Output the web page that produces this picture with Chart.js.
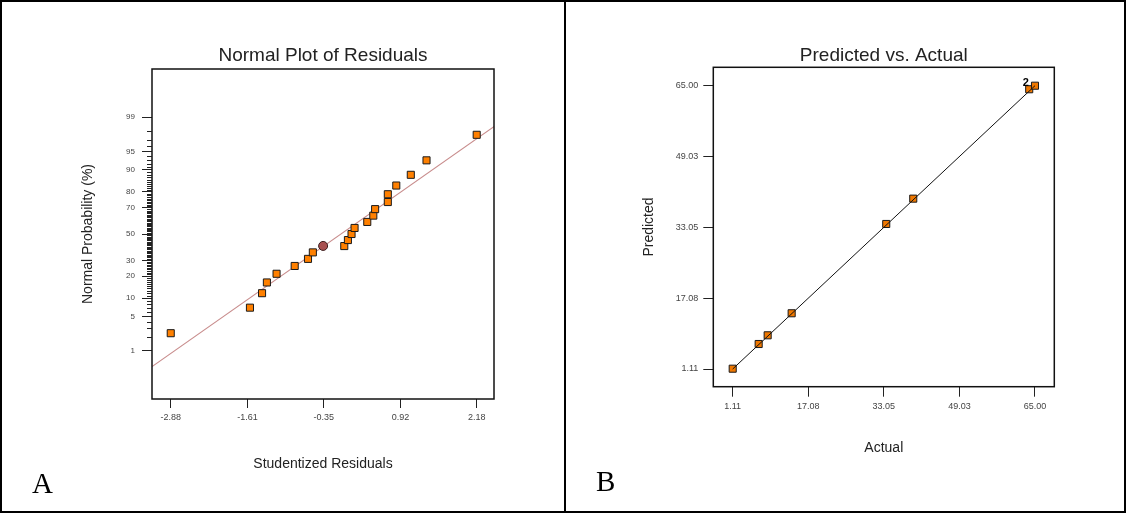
<!DOCTYPE html>
<html>
<head>
<meta charset="utf-8">
<script src="https://cdn.jsdelivr.net/npm/chart.js@4.4.0/dist/chart.umd.min.js"></script>
<style>
  html, body { margin: 0; padding: 0; background: #fff; }
  #page { position: relative; width: 1126px; height: 513px; overflow: hidden; background: #fff; }
  canvas { position: absolute; top: 0; }
  #cA { left: 0; }
  #cB { left: 566px; }
  .frame { position: absolute; border: 2px solid #000; box-sizing: border-box; }
  .tag { position: absolute; font-family: 'Liberation Serif', 'Times New Roman', serif; font-size: 29px; line-height: 1; color: #000; }
</style>
</head>
<body>
<div id="page">
  <canvas id="cA" width="566" height="513"></canvas>
  <canvas id="cB" width="560" height="513"></canvas>
  <div class="frame" style="left:0;top:0;width:1126px;height:513px"></div>
  <div class="frame" style="left:564px;top:0;width:2px;height:513px;border-width:0 0 0 2px"></div>
  <div class="tag" style="left:32px;top:469px">A</div>
  <div class="tag" style="left:596px;top:467px">B</div>
</div>
<script>
// --- panel A: normal plot of residuals ---
const residuals = [-2.88, -1.57, -1.37, -1.29, -1.13, -0.83, -0.61, -0.53, -0.01, 0.05, 0.11,
                   0.16, 0.37, 0.47, 0.50, 0.71, 0.71, 0.85, 1.09, 1.35, 2.18];
const probability = [2.4, 7.1, 11.9, 16.7, 21.4, 26.2, 31.0, 35.7, 40.5, 45.2, 50.0,
                     54.8, 59.5, 64.3, 69.0, 73.8, 78.6, 83.3, 88.1, 92.9, 97.6];
const selResidual = [-0.36];
const selProbability = [40.6];
const fitLineX = [-3.19, 2.47];
const fitLineProb = [0.41, 98.4];
const xTicksA = [-2.88, -1.61, -0.35, 0.92, 2.18];
const xLabelsA = ['-2.88', '-1.61', '-0.35', '0.92', '2.18'];
const probTicks = [1, 5, 10, 20, 30, 50, 70, 80, 90, 95, 99];

// --- panel B: predicted vs actual ---
const actual = [1.11, 6.60, 8.50, 13.57, 33.56, 39.27, 63.78, 65.00];
const predicted = [1.18, 6.75, 8.71, 13.68, 33.82, 39.53, 64.20, 65.00];
const refLine = [1.11, 65.00];
const ticksB = [1.11, 17.08, 33.05, 49.03, 65.00];
const labelsB = ['1.11', '17.08', '33.05', '49.03', '65.00'];
const repeatIndex = [6];
const repeatText = ['2'];

const FONT = "'Liberation Sans', Arial, sans-serif";

// inverse normal cdf (Acklam), used to put percentages on a probability axis
function probit(p) {
  const a = [-3.969683028665376e+01, 2.209460984245205e+02, -2.759285104469687e+02, 1.383577518672690e+02, -3.066479806614716e+01, 2.506628277459239e+00];
  const b = [-5.447609879822406e+01, 1.615858368580409e+02, -1.556989798598866e+02, 6.680131188771972e+01, -1.328068155288572e+01];
  const c = [-7.784894002430293e-03, -3.223964580411365e-01, -2.400758277161838e+00, -2.549732539343734e+00, 4.374664141464968e+00, 2.938163982698783e+00];
  const d = [7.784695709041462e-03, 3.224671290700398e-01, 2.445134137142996e+00, 3.754408661907416e+00];
  const pl = 0.02425;
  let q, r;
  if (p < pl) {
    q = Math.sqrt(-2 * Math.log(p));
    return (((((c[0]*q+c[1])*q+c[2])*q+c[3])*q+c[4])*q+c[5]) / ((((d[0]*q+d[1])*q+d[2])*q+d[3])*q+1);
  }
  if (p > 1 - pl) {
    q = Math.sqrt(-2 * Math.log(1 - p));
    return -(((((c[0]*q+c[1])*q+c[2])*q+c[3])*q+c[4])*q+c[5]) / ((((d[0]*q+d[1])*q+d[2])*q+d[3])*q+1);
  }
  q = p - 0.5; r = q * q;
  return (((((a[0]*r+a[1])*r+a[2])*r+a[3])*r+a[4])*r+a[5])*q / (((((b[0]*r+b[1])*r+b[2])*r+b[3])*r+b[4])*r+1);
}

// box round the plot area
const frame = {
  id: 'frame',
  afterDraw(chart) {
    const a = chart.chartArea, ctx = chart.ctx;
    ctx.save();
    ctx.strokeStyle = '#111';
    ctx.lineWidth = 1.5;
    ctx.strokeRect(a.left, a.top, a.right - a.left, a.bottom - a.top);
    ctx.restore();
  }
};

// short marks for every whole percent on the probability axis
const minorTicks = {
  id: 'minorTicks',
  afterDraw(chart) {
    const ys = chart.scales.y, ctx = chart.ctx;
    ctx.save();
    ctx.strokeStyle = '#222';
    ctx.lineWidth = 1;
    ctx.beginPath();
    for (let p = 1; p <= 99; p++) {
      if (probTicks.includes(p)) continue;
      const py = Math.round(ys.getPixelForValue(probit(p / 100))) + 0.5;
      ctx.moveTo(ys.right - 5, py);
      ctx.lineTo(ys.right, py);
    }
    ctx.stroke();
    ctx.restore();
  }
};

const countLabels = {
  id: 'countLabels',
  afterDatasetsDraw(chart) {
    const ctx = chart.ctx, xs = chart.scales.x, ys = chart.scales.y;
    ctx.save();
    ctx.font = 'bold 11px ' + FONT;
    ctx.fillStyle = '#000';
    ctx.textAlign = 'center';
    ctx.textBaseline = 'middle';
    repeatIndex.forEach(function (idx, k) {
      ctx.fillText(repeatText[k], xs.getPixelForValue(actual[idx]) - 3.5, ys.getPixelForValue(predicted[idx]) - 6);
    });
    ctx.restore();
  }
};

function axisBase(tickLen) {
  return {
    type: 'linear',
    grid: { drawOnChartArea: false, drawTicks: true, tickLength: tickLen, color: '#222', tickWidth: 1 },
    border: { display: false },
  };
}

new Chart(document.getElementById('cA'), {
  type: 'scatter',
  data: {
    datasets: [
      {
        data: residuals.map(function (r, i) { return { x: r, y: probit(probability[i] / 100) }; }),
        pointStyle: 'rect', pointRadius: 5, backgroundColor: '#ff8000', borderColor: '#1a1a1a', borderWidth: 1,
        order: 1,
      },
      {
        data: selResidual.map(function (r, i) { return { x: r, y: probit(selProbability[i] / 100) }; }),
        pointStyle: 'circle', pointRadius: 4.5, backgroundColor: '#a85050', borderColor: '#3a1a1a', borderWidth: 1,
        order: 0,
      },
      {
        type: 'line',
        data: fitLineX.map(function (x, i) { return { x: x, y: probit(fitLineProb[i] / 100) }; }),
        borderColor: '#c88c8c', borderWidth: 1.2, pointRadius: 0, fill: false,
        order: 2,
      },
    ],
  },
  options: {
    responsive: false,
    animation: false,
    layout: { padding: { left: 0, right: 72, top: 0, bottom: 0 } },
    plugins: {
      legend: { display: false },
      tooltip: { enabled: false },
      title: {
        display: true, text: 'Normal Plot of Residuals', fullSize: false, color: '#222',
        font: { family: FONT, size: 19, weight: 'normal' },
        padding: { top: 44.6, bottom: 1.6 },
      },
    },
    scales: {
      x: Object.assign(axisBase(9), {
        min: -3.19, max: 2.466,
        afterBuildTicks: function (s) { s.ticks = xTicksA.map(function (v) { return { value: v }; }); },
        afterFit: function (s) { s.height = 114; },
        ticks: {
          autoSkip: false, maxRotation: 0, padding: 4, color: '#444',
          font: { family: FONT, size: 9 },
          callback: function (v, i) { return xLabelsA[i]; },
        },
        title: {
          display: true, text: 'Studentized Residuals', color: '#222',
          font: { family: FONT, size: 14 }, padding: { top: 0, bottom: 40.6 },
        },
      }),
      y: Object.assign(axisBase(10), {
        min: -3.289, max: 3.289,
        afterBuildTicks: function (s) { s.ticks = probTicks.map(function (p) { return { value: probit(p / 100) }; }); },
        afterFit: function (s) { s.width = 152; },
        ticks: {
          autoSkip: false, padding: 7, color: '#444',
          font: { family: FONT, size: 8 },
          callback: function (v, i) { return String(probTicks[i]); },
        },
        title: {
          display: true, text: 'Normal Probability (%)', color: '#222',
          font: { family: FONT, size: 14 }, padding: { top: 79.6, bottom: 0 },
        },
      }),
    },
  },
  plugins: [frame, minorTicks],
});

new Chart(document.getElementById('cB'), {
  type: 'scatter',
  data: {
    datasets: [
      {
        type: 'line',
        data: refLine.map(function (v) { return { x: v, y: v }; }),
        borderColor: '#111', borderWidth: 1, pointRadius: 0, fill: false,
        order: 0,
      },
      {
        data: actual.map(function (a, i) { return { x: a, y: predicted[i] }; }),
        pointStyle: 'rect', pointRadius: 5, backgroundColor: '#f07800', borderColor: '#1a1a1a', borderWidth: 1,
        order: 1,
      },
    ],
  },
  options: {
    responsive: false,
    animation: false,
    layout: { padding: { left: 0, right: 71.7, top: 0, bottom: 0 } },
    plugins: {
      legend: { display: false },
      tooltip: { enabled: false },
      title: {
        display: true, text: 'Predicted vs. Actual', fullSize: false, color: '#222',
        font: { family: FONT, size: 19, weight: 'normal' },
        padding: { top: 44.1, bottom: 0.4 },
      },
    },
    scales: {
      x: Object.assign(axisBase(10), {
        min: -2.99, max: 69.08,
        afterBuildTicks: function (s) { s.ticks = ticksB.map(function (v) { return { value: v }; }); },
        afterFit: function (s) { s.height = 126.3; },
        ticks: {
          autoSkip: false, maxRotation: 0, padding: 4, color: '#444',
          font: { family: FONT, size: 9 },
          callback: function (v, i) { return labelsB[i]; },
        },
        title: {
          display: true, text: 'Actual', color: '#222',
          font: { family: FONT, size: 14 }, padding: { top: 0, bottom: 56.6 },
        },
      }),
      y: Object.assign(axisBase(10), {
        min: -2.88, max: 69.15,
        afterBuildTicks: function (s) { s.ticks = ticksB.map(function (v) { return { value: v }; }); },
        afterFit: function (s) { s.width = 147.3; },
        ticks: {
          autoSkip: false, padding: 5, color: '#444',
          font: { family: FONT, size: 9 },
          callback: function (v, i) { return labelsB[i]; },
        },
        title: {
          display: true, text: 'Predicted', color: '#222',
          font: { family: FONT, size: 14 }, padding: { top: 74.6, bottom: 0 },
        },
      }),
    },
  },
  plugins: [frame, countLabels],
});
</script>
</body>
</html>
